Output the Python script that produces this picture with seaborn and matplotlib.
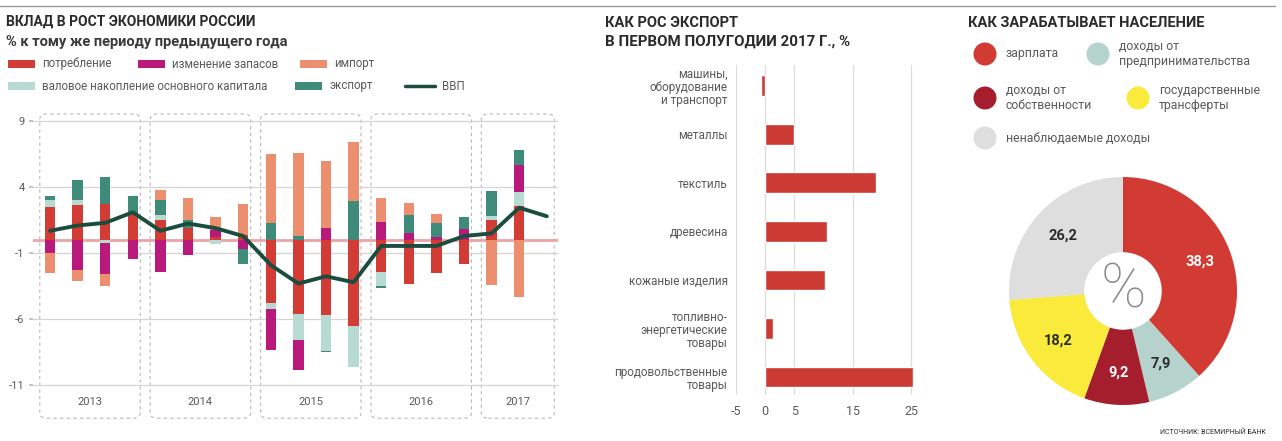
import numpy as np
import matplotlib.pyplot as plt
import seaborn as sns
from matplotlib.patches import FancyBboxPatch, Rectangle, Circle

# --- data ---------------------------------------------------------------
quarters = ["I.13", "II.13", "III.13", "IV.13", "I.14", "II.14", "III.14", "IV.14",
            "I.15", "II.15", "III.15", "IV.15", "I.16", "II.16", "III.16", "IV.16",
            "I.17", "II.17", "III.17"]
years = ["2013", "2014", "2015", "2016", "2017"]
quarters_in_year = [4, 4, 4, 4, 3]

# contributions to growth, p.p. (stack order: consumption, capital, inventories, exports, imports)
consumption = [2.5, 2.65, 2.75, 2.15, 1.5, 0.9, 0.25, 0.4, -4.8, -5.6, -5.7, -6.5,
               -2.4, -3.3, -2.5, -1.8, 1.55, 2.55]
capital = [0.5, 0.4, -0.25, 0, 0.4, 0, -0.3, 0, -0.4, -1.95, -2.7, -3.1,
           -1.1, 0, 0, 0, 0.3, 1.1]
inventories = [-1.0, -2.27, -2.35, -1.45, -2.4, -1.1, 0.5, -0.65, -3.15, -2.3, 0.9, 0,
               1.4, 0.5, 0.25, 0.8, 0, 2.0]
exports = [0.35, 1.5, 2.0, 1.15, 1.1, 0.6, 0, -1.2, 1.3, 0.3, -0.12, 2.95,
           -0.1, 1.4, 1.05, 0.95, 1.85, 1.15]
imports = [-1.5, -0.8, -0.85, 0, 0.8, 1.65, 1.0, 2.35, 5.25, 6.3, 5.1, 4.5,
           1.75, 0.9, 0.7, 0, -3.4, -4.35]
gdp = [0.7, 1.1, 1.3, 2.1, 0.7, 1.25, 0.9, 0.3, -1.9, -3.3, -2.75, -3.2,
       -0.45, -0.45, -0.45, 0.3, 0.5, 2.45, 1.8]

series_names = ["потребление", "валовое накопление основного капитала",
                "изменение запасов", "экспорт", "импорт"]
series_colors = ["#d23c35", "#b7dbd3", "#b8197a", "#3e8b7a", "#eb8f6e"]

export_items = ["машины,\nоборудование\nи транспорт", "металлы", "текстиль", "древесина",
                "кожаные изделия", "топливно-\nэнергетические\nтовары",
                "продовольственные\nтовары"]
export_growth = [-0.8, 5.0, 18.9, 10.6, 10.3, 1.4, 25.3]

income_labels = ["зарплата", "доходы от\nпредпринимательства", "доходы от\nсобственности",
                 "государственные\nтрансферты", "ненаблюдаемые доходы"]
income_share = [38.3, 7.9, 9.2, 18.2, 26.2]
income_colors = ["#d13b34", "#b5d3cc", "#a51e2e", "#f9ea3c", "#dedede"]

# --- figure --------------------------------------------------------------
sns.set_theme(style="white")
plt.rcParams["font.family"] = ["Roboto", "DejaVu Sans"]

W, H = 1282, 441
fig = plt.figure(figsize=(W / 100, H / 100), dpi=100)


def px_axes(x0, y0, x1, y1):
    return fig.add_axes([x0 / W, 1 - y1 / H, (x1 - x0) / W, (y1 - y0) / H])


# overlay in pixel coordinates for titles and legends
ov = px_axes(0, 0, W, H)
ov.set_xlim(0, W)
ov.set_ylim(H, 0)
ov.axis("off")
ov.plot([0, 1275], [6, 6], color="#9a9a9a", lw=1)

dark = "#2b2b2b"
grey = "#5a5a5a"

# left titles + legend
ov.text(6, 22, "ВКЛАД В РОСТ ЭКОНОМИКИ РОССИИ", fontsize=10, fontweight="bold",
        color=dark, va="center")
ov.text(6, 42, "% к тому же периоду предыдущего года", fontsize=10.5, fontweight="bold",
        color="#3a3a3a", va="center")
legend_slots = [(8, 64, 0), (138, 64, 2), (300, 64, 4), (8, 86, 1), (295, 86, 3)]
for x, y, k in legend_slots:
    ov.add_patch(Rectangle((x, y - 4), 27, 8, color=series_colors[k], lw=0))
    ov.text(x + 34, y, series_names[k], fontsize=8.3, color=grey, va="center")
ov.plot([405, 435], [86, 86], color="#1b4d3e", lw=2.5)
ov.text(442, 86, "ВВП", fontsize=8.3, color=grey, va="center")

# middle title
ov.text(605, 23, "КАК РОС ЭКСПОРТ", fontsize=10.5, fontweight="bold", color=dark, va="center")
ov.text(605, 42, "В ПЕРВОМ ПОЛУГОДИИ 2017 Г., %", fontsize=10.8, fontweight="bold",
        color=dark, va="center")

# right title + legend
ov.text(968, 23, "КАК ЗАРАБАТЫВАЕТ НАСЕЛЕНИЕ", fontsize=10.5, fontweight="bold",
        color=dark, va="center")
pie_legend = [(985, 54, 0), (1098, 54, 1), (985, 98, 2), (1138, 98, 3), (985, 138, 4)]
for x, y, k in pie_legend:
    ov.add_patch(Circle((x, y), 11.5, color=income_colors[k], lw=0))
    ov.text(x + 21, y, income_labels[k], fontsize=8.8, color=grey, va="center",
            linespacing=1.15)
ov.text(1266, 433, "ИСТОЧНИК: ВСЕМИРНЫЙ БАНК", fontsize=5, color=dark,
        ha="right", va="center")

# --- left: stacked contributions ----------------------------------------
ax = px_axes(33, 113.3, 558, 424.8)
ax.set_xlim((33 - 50) / 27.6, (558 - 50) / 27.6)
ax.set_ylim(-14, 9.6)
sns.despine(ax=ax, left=True, bottom=True)

for v in [9, 4, -1, -6, -11]:
    ax.axhline(v, color="#d4d4d4", lw=0.9, zorder=1)
ax.axhline(0, color="#eaa5a5", lw=2, zorder=1)

# year boxes
start = 0
for yr, n in zip(years, quarters_in_year):
    x0, x1 = start - 0.37, start + n - 1 + 0.27
    box = FancyBboxPatch((x0, -13.5), x1 - x0, 23.05,
                         boxstyle="round,pad=0,rounding_size=0.25",
                         fill=False, ec="#b8b8b8", lw=0.8, ls=(0, (3, 3)), zorder=0,
                         mutation_aspect=1.6)
    ax.add_patch(box)
    ax.text((x0 + x1) / 2, -12.3, yr, ha="center", va="center", fontsize=8, color=grey)
    start += n

x = np.arange(len(consumption))
pos_base = np.zeros(len(x))
neg_base = np.zeros(len(x))
for vals, col in zip([consumption, capital, inventories, exports, imports], series_colors):
    vals = np.array(vals, dtype=float)
    pos = np.where(vals > 0, vals, 0)
    neg = np.where(vals < 0, vals, 0)
    ax.bar(x, pos, bottom=pos_base, width=0.38, color=col, lw=0, zorder=2)
    ax.bar(x, neg, bottom=neg_base, width=0.38, color=col, lw=0, zorder=2)
    pos_base += pos
    neg_base += neg

sns.lineplot(x=np.arange(len(gdp)), y=gdp, ax=ax, color="#1b4d3e", lw=2.8, zorder=3)

ax.set_xticks([])
ax.set_yticks([9, 4, -1, -6, -11])
ax.set_yticklabels(["9", "4", "-1", "-6", "-11"])
ax.tick_params(axis="y", length=3, color="#bbbbbb", pad=3, labelsize=8, labelcolor=grey,
               left=True)

# --- middle: export growth ----------------------------------------------
ax2 = px_axes(736, 65, 929, 395)
sns.barplot(x=export_growth, y=export_items, orient="h", color="#cc3b33", saturation=1,
            width=0.43, ax=ax2, zorder=2)
ax2.set_xlim(-5, 28)
ax2.set_ylim(6.37, -0.43)
ax2.set_xticks([-5, 0, 5, 15, 25])
ax2.set_xticklabels(["-5", "0", "5", "15", "25"])
for v in [-5, 0, 5, 15, 25]:
    ax2.axvline(v, color="#dddddd", lw=0.9, zorder=1)
sns.despine(ax=ax2, left=True, bottom=True)
ax2.tick_params(axis="x", length=0, pad=7, labelsize=9, labelcolor=grey)
ax2.tick_params(axis="y", length=0, pad=6, labelsize=8.5, labelcolor=grey)
for t in ax2.get_yticklabels():
    t.set_linespacing(1.0)
ax2.set_xlabel("")
ax2.set_ylabel("")

# --- right: income donut -------------------------------------------------
ax3 = px_axes(1009, 177, 1237, 405)
wedges, _, pct = ax3.pie(income_share, colors=income_colors, startangle=90,
                         counterclock=False, radius=1,
                         wedgeprops=dict(width=0.66, lw=0),
                         autopct=lambda p: "", pctdistance=0.72)
label_colors = ["white", dark, "white", dark, dark]
for t, val, c in zip(pct, income_share, label_colors):
    t.set_text(f"{val:.1f}".replace(".", ","))
    t.set_color(c)
    t.set_fontsize(10.5)
    t.set_fontweight("bold")
ax3.text(0, 0, "%", ha="center", va="center", fontsize=44, color="#8a8a8a",
         fontweight="light")
ax3.set_xlim(-1, 1)
ax3.set_ylim(-1, 1)
ax3.set_aspect("equal")

fig.savefig("out.png", dpi=100)
